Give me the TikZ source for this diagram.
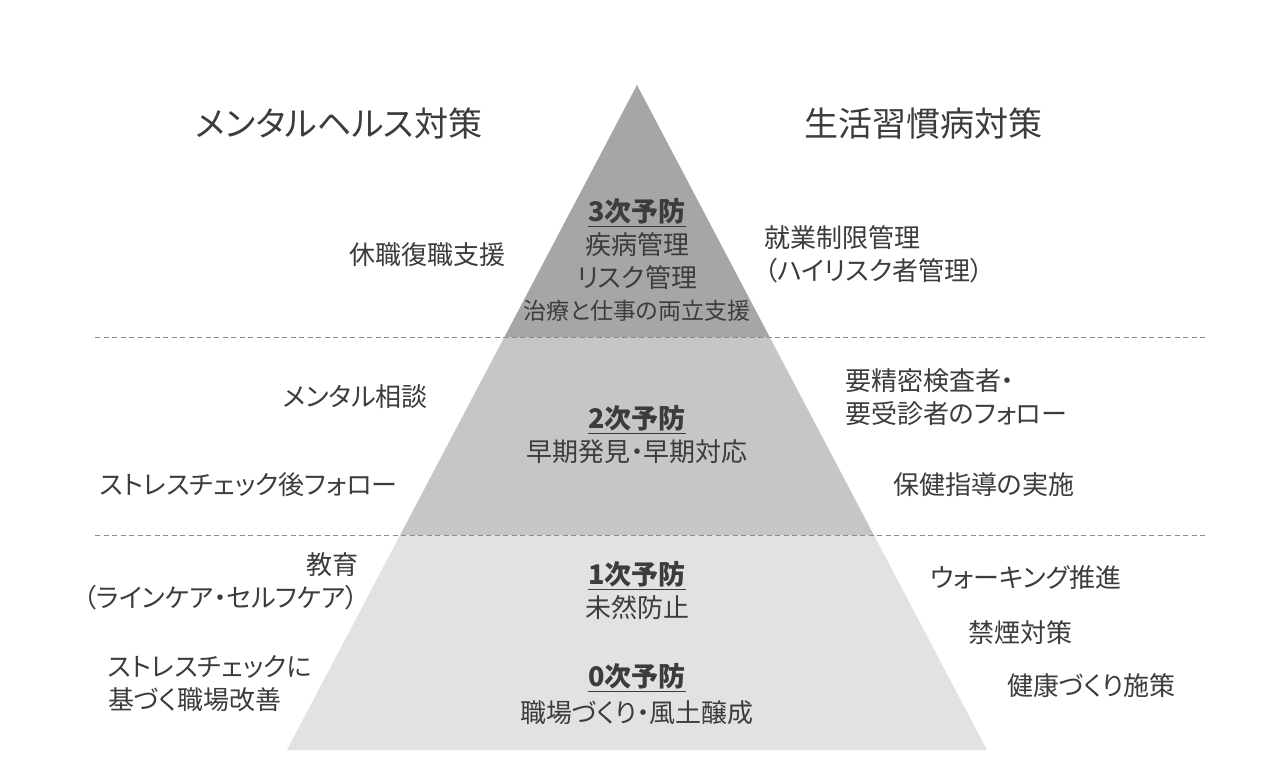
\documentclass[tikz,border=0pt]{standalone}
\usepackage{fontspec}
\setmainfont[RawFeature=+palt]{Noto Sans CJK JP}
\usetikzlibrary{calc}
\definecolor{txt}{HTML}{3C3C3C}
\definecolor{lvlA}{HTML}{A6A6A6}
\definecolor{lvlB}{HTML}{C6C6C6}
\definecolor{lvlC}{HTML}{E2E2E2}
\definecolor{dashc}{HTML}{8C8C8C}
\tikzset{
  lbl/.style={inner sep=0pt, text=txt, font=\fontsize{26}{33}\selectfont},
  small/.style={inner sep=0pt, text=txt, font=\fontsize{23}{29}\selectfont},
  ttl/.style={inner sep=0pt, text=txt, font=\fontsize{34}{40}\selectfont},
  lvl/.style={inner sep=0pt, text=txt, font=\fontsize{27}{33}\selectfont\bfseries},
  uline/.style={draw=txt, line width=1.2pt},
  sep/.style={draw=dashc, line width=0.9pt, dash pattern=on 5pt off 3.5pt}
}
\begin{document}
\begin{tikzpicture}[x=1pt,y=-1pt]
\fill[white] (0,0) rectangle (1280,777);
\useasboundingbox (0,0) rectangle (1280,777);
% pyramid
\coordinate (apex) at (637,85);
\coordinate (bl) at (287,750);
\coordinate (br) at (987,750);
\coordinate (l1) at ($(apex)!0.37895!(bl)$);
\coordinate (r1) at ($(apex)!0.37895!(br)$);
\coordinate (l2) at ($(apex)!0.67669!(bl)$);
\coordinate (r2) at ($(apex)!0.67669!(br)$);
\fill[lvlA] (apex) -- (r1) -- (l1) -- cycle;
\fill[lvlB] (l1) -- (r1) -- (r2) -- (l2) -- cycle;
\fill[lvlC] (l2) -- (r2) -- (br) -- (bl) -- cycle;
% separators
\coordinate (s1a) at (95,337);
\coordinate (s1b) at (1205,337);
\coordinate (s2a) at (95,535);
\coordinate (s2b) at (1205,535);
\draw[sep] (s1a) -- (s1b);
\draw[sep] (s2a) -- (s2b);
% titles
\node[ttl] (tL) at (339,124) {メンタルヘルス対策};
\node[ttl] (tR) at (923,124) {生活習慣病対策};
% level 3
\node[lvl] (p3) at (637,211) {3次予防};
\draw[uline] ([yshift=-5pt]p3.base west) -- ([yshift=-5pt]p3.base east);
\node[lbl] (p3a) at (637,245) {疾病管理};
\node[lbl] (p3b) at (637,278) {リスク管理};
\node[small] (p3c) at (637,311) {治療と仕事の両立支援};
\node[lbl, anchor=east] (m3) at (506,255) {休職復職支援};
\node[lbl, anchor=west, align=left] (h3) at (764,254) {就業制限管理\\（ハイリスク者管理）};
% level 2
\node[lvl] (p2) at (637,418) {2次予防};
\draw[uline] ([yshift=-5pt]p2.base west) -- ([yshift=-5pt]p2.base east);
\node[lbl] (p2a) at (637,452) {早期発見・早期対応};
\node[lbl, anchor=east] (m2a) at (428,397) {メンタル相談};
\node[lbl, anchor=west] (m2b) at (100,485) {ストレスチェック後フォロー};
\node[lbl, anchor=west, align=left] (h2a) at (845,397) {要精密検査者・\\要受診者のフォロー};
\node[lbl, anchor=west] (h2b) at (893,485) {保健指導の実施};
% level 1
\node[lvl] (p1) at (637,574) {1次予防};
\draw[uline] ([yshift=-5pt]p1.base west) -- ([yshift=-5pt]p1.base east);
\node[lbl] (p1a) at (637,608) {未然防止};
\node[lbl, anchor=east, align=right] (m1) at (359,581) {教育\\（ラインケア・セルフケア）};
\node[lbl, anchor=west] (h1a) at (930,578) {ウォーキング推進};
\node[lbl, anchor=west] (h1b) at (968,633) {禁煙対策};
% level 0
\node[lvl] (p0) at (637,676) {0次予防};
\draw[uline] ([yshift=-5pt]p0.base west) -- ([yshift=-5pt]p0.base east);
\node[lbl] (p0a) at (637,713) {職場づくり・風土醸成};
\node[lbl, anchor=west, align=left] (m0) at (108,684) {ストレスチェックに\\基づく職場改善};
\node[lbl, anchor=west] (h0) at (1007,686) {健康づくり施策};
\end{tikzpicture}
\end{document}
